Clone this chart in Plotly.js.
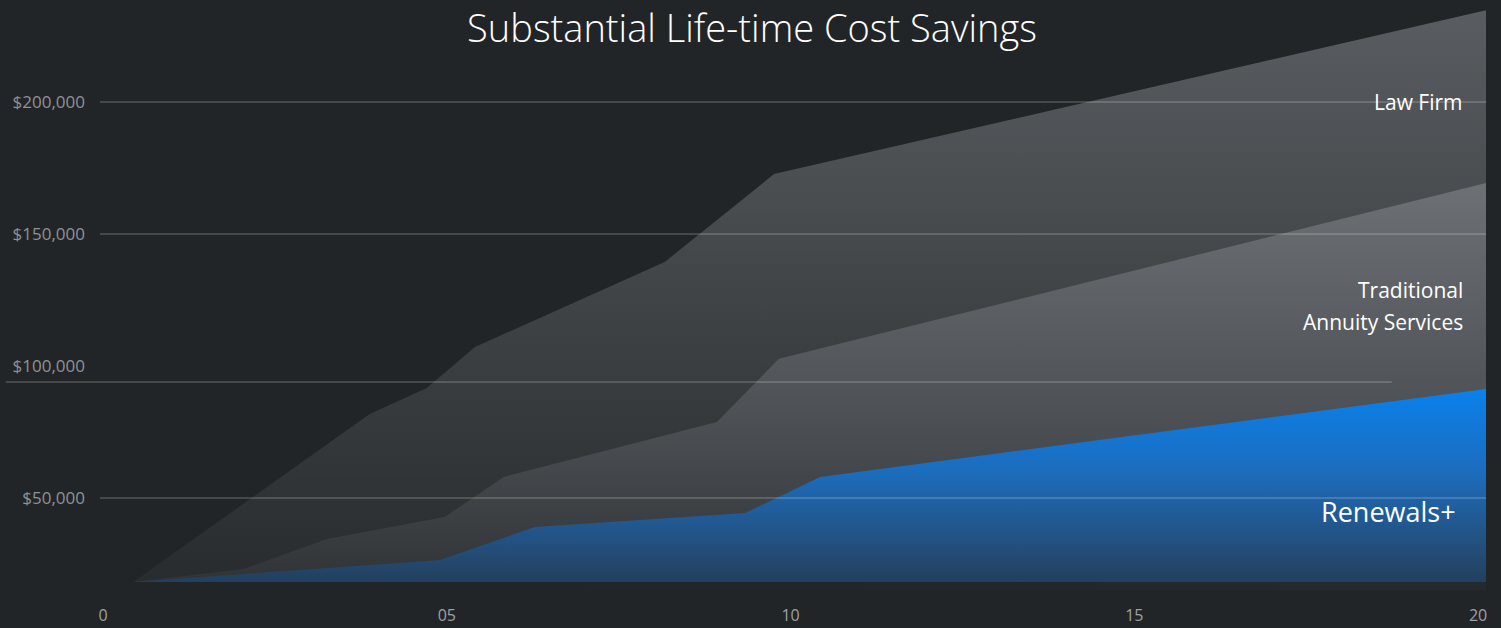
<!DOCTYPE html>
<html>
<head>
<meta charset="utf-8">
<script src="https://cdn.plot.ly/plotly-3.0.1.min.js"></script>
<style>html,body{margin:0;padding:0;background:#222527;}#chart{width:1501px;height:628px;}</style>
</head>
<body>
<div id="chart"></div>
<script>
// ---- data ----
const lawFirmX = [0.44, 3.88, 4.71, 5.41, 8.17, 9.76, 20.12];
const lawFirmY = [18200, 81800, 91700, 107200, 139400, 172700, 234800];
const tradX = [0.44, 2.04, 3.26, 4.97, 5.83, 8.93, 9.83, 20.12];
const tradY = [18200, 23100, 34500, 42800, 58000, 78800, 102700, 169300];
const renewX = [0.44, 4.90, 6.28, 9.34, 10.43, 20.12];
const renewY = [18200, 26500, 39000, 44300, 58000, 91300];
const yTickVals = [50000, 100000, 150000, 200000];
const yTickText = ['$50,000', '$100,000', '$150,000', '$200,000'];
const xTickVals = [0, 5, 10, 15, 20];
const xTickText = ['0', '05', '10', '15', '20'];
const seriesNames = ['Law Firm', 'Traditional<br>Annuity Services', 'Renewals+'];

const bg = '#222527';
function area(x, y, scale, name) {
  return {
    x: x, y: y, type: 'scatter', mode: 'lines', fill: 'tozeroy', name: name,
    line: {width: 0, color: 'rgba(0,0,0,0)'},
    fillgradient: {type: 'vertical', colorscale: scale},
    hoverinfo: 'skip'
  };
}
const traces = [
  area(lawFirmX, lawFirmY, [[0, '#25282a'], [0.45, '#3c3f42'], [1, '#595d61']], seriesNames[0]),
  area(tradX, tradY, [[0, '#282b2e'], [0.45, '#4b4f53'], [1, '#6d7175']], seriesNames[1]),
  area(renewX, renewY, [[0, '#1f2a37'], [0.3, '#244a72'], [0.65, '#1d6cbc'], [1, '#0981ec']], seriesNames[2])
];

// gridlines drawn above the areas (the $100,000 line is offset in the design)
const gridShift = {100000: -6100};
const gridSpan = {100000: [-0.068, 0.932]};
const shapes = yTickVals.map(v => {
  const span = gridSpan[v] || [0, 1];
  const yy = v + (gridShift[v] || 0);
  return {type: 'line', layer: 'above', xref: 'paper', yref: 'y', x0: span[0], x1: span[1], y0: yy, y1: yy,
          line: {color: 'rgba(255,255,255,0.16)', width: 2}};
});
// faint shadow band under the chart floor, fading in toward the right
[0.35, 0.55, 0.72, 0.85].forEach(x0 => {
  shapes.push({type: 'rect', layer: 'below', xref: 'paper', yref: 'paper', x0: x0, x1: 1, y0: -0.014, y1: 0,
               line: {width: 0}, fillcolor: 'rgba(255,255,255,0.009)'});
});

const lines2 = seriesNames[1].split('<br>');
const annotations = [
  {text: seriesNames[0], x: 0.985, y: 200000, size: 21},
  {text: lines2[0], x: 0.985, y: 128800, size: 21},
  {text: lines2[1], x: 0.985, y: 116700, size: 21},
  {text: seriesNames[2], x: 0.98, y: 44800, size: 27}
].map(a => ({
  text: a.text, xref: 'paper', yref: 'y', x: a.x, y: a.y, xanchor: 'right', yanchor: 'middle', align: 'right',
  showarrow: false, font: {family: 'Open Sans, sans-serif', size: a.size, color: '#ffffff', weight: 500}
}));

const layout = {
  width: 1501, height: 628,
  paper_bgcolor: bg, plot_bgcolor: bg,
  margin: {l: 100, r: 15, t: 0, b: 46},
  showlegend: false,
  title: {text: 'Substantial Life-time Cost Savings', x: 0.501, xanchor: 'center', y: 0.954, yanchor: 'middle',
          yref: 'container', font: {family: 'Open Sans, sans-serif', size: 38, color: '#ffffff', weight: 300}},
  xaxis: {range: [-0.044, 20.116], tickvals: xTickVals, ticktext: xTickText, showgrid: false, zeroline: false,
          showline: false, ticks: '', ticklabelstandoff: 22,
          tickfont: {family: 'Open Sans, sans-serif', size: 16, color: '#9da1a5'}},
  yaxis: {range: [18182, 238636], tickvals: yTickVals, ticktext: yTickText, showgrid: false, zeroline: false,
          showline: false, ticks: '', ticklabelstandoff: 14,
          tickfont: {family: 'Open Sans, sans-serif', size: 17, color: '#8e9296'}},
  shapes: shapes,
  annotations: annotations
};
Plotly.newPlot('chart', traces, layout, {displayModeBar: false, staticPlot: true});
</script>
</body>
</html>
